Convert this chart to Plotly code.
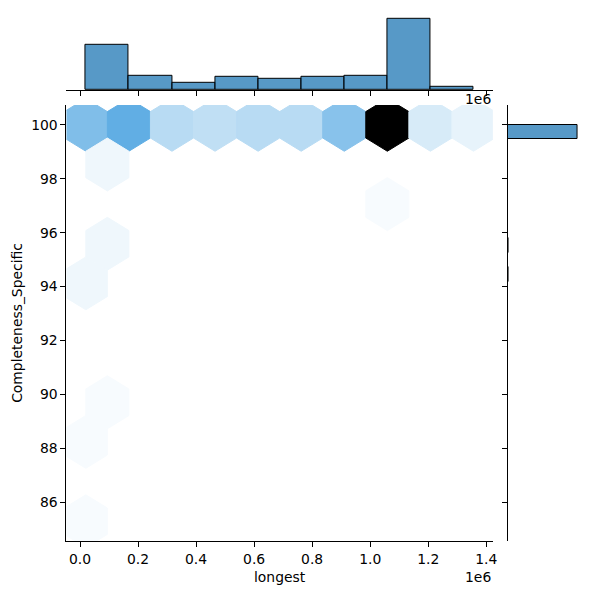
import colorsys
import numpy as np
import plotly.graph_objects as go

# ---------------- data ----------------
x_min, x_max = 0.02e6, 1.356e6          # range of "longest"
y_min, y_max = 85.3, 100.0              # range of "Completeness_Specific"
grid_nx, grid_ny = 9, 5                 # hexbin grid size

# top marginal histogram (9 bins between x_min and x_max)
x_hist_counts = [37, 12, 6, 11, 9, 11, 12, 59, 3]

# hexbin cells: lattice column / row index and count
hex_col = [0, 1, 2, 3, 4, 5, 6, 7, 8, 9, 0.5, 7, 0.5, 0, 0.5, 0, 0]
hex_row = [5, 5, 5, 5, 5, 5, 5, 5, 5, 5, 4.5, 4, 3.5, 3, 1.5, 1, 0]
hex_count = [16, 20, 9, 8, 9, 9, 15, 55, 5, 3, 2, 1, 2, 2, 1, 1, 1]

# right marginal histogram
y_hist_centers = [99.73, 95.53, 94.45]
y_hist_counts = [150, 2, 2]
y_hist_width = 0.544

x_tick_vals = [0.0, 0.2, 0.4, 0.6, 0.8, 1.0, 1.2, 1.4]   # x 1e6
y_tick_vals = [86, 88, 90, 92, 94, 96, 98, 100]

# ---------------- colormap (seaborn jointplot hex) ----------------
base = (31 / 255, 119 / 255, 180 / 255)
h, l0, s = colorsys.rgb_to_hls(*base)
stops = [colorsys.hls_to_rgb(h, l, s) for l in np.linspace(1, 0, 12)]


def cmap(t):
    t = min(max(t, 0.0), 1.0)
    pos = t * (len(stops) - 1)
    i = min(int(pos), len(stops) - 2)
    f = pos - i
    c = [stops[i][k] * (1 - f) + stops[i + 1][k] * f for k in range(3)]
    return "rgb(%d,%d,%d)" % tuple(round(v * 255) for v in c)


# ---------------- geometry from scales ----------------
sx = (x_max - x_min) / grid_nx
sy = (y_max - y_min) / grid_ny
xr = [x_min - 0.05 * (x_max - x_min), x_max + 0.05 * (x_max - x_min)]
yr = [y_min - 0.05 * (y_max - y_min), y_max + 0.05 * (y_max - y_min)]
hx = sx * np.array([0.5, 0.5, 0, -0.5, -0.5, 0, 0.5])
hy = sy / 3 * np.array([-0.5, 0.5, 1, 0.5, -0.5, -1, -0.5])

W = 600.0
main_x = [67 / W, 497 / W]
main_y = [1 - 541 / W, 1 - 105 / W]
top_y = [1 - 90 / W, 1 - 14.8 / W]
right_x = [511.8 / W, 585.9 / W]

fig = go.Figure()
vmax = max(hex_count)
for c, r, n in zip(hex_col, hex_row, hex_count):
    cx = x_min + c * sx
    cy = y_min + r * sy
    col = cmap(n / vmax)
    fig.add_trace(go.Scatter(
        x=cx + hx, y=cy + hy, mode="lines", fill="toself",
        fillcolor=col, line=dict(color=col, width=1),
        hoverinfo="skip", showlegend=False, xaxis="x", yaxis="y"))

edges = np.linspace(x_min, x_max, len(x_hist_counts) + 1)
fig.add_trace(go.Bar(
    x=(edges[:-1] + edges[1:]) / 2, y=x_hist_counts, width=edges[1] - edges[0],
    marker=dict(color="rgba(31,119,180,0.75)", line=dict(color="black", width=1)),
    xaxis="x2", yaxis="y2", showlegend=False))
fig.add_trace(go.Bar(
    y=y_hist_centers, x=y_hist_counts, width=y_hist_width, orientation="h",
    marker=dict(color="rgba(31,119,180,0.75)", line=dict(color="black", width=1)),
    xaxis="x3", yaxis="y3", showlegend=False))

axis_common = dict(showgrid=False, zeroline=False, showline=True, linecolor="black",
                   linewidth=1, ticks="outside", ticklen=5, tickwidth=1, tickcolor="black")
fnt = dict(family="DejaVu Sans", size=13.9, color="black")
fig.update_layout(
    width=600, height=600, margin=dict(l=0, r=0, t=0, b=0),
    paper_bgcolor="white", plot_bgcolor="white", font=fnt, bargap=0,
    xaxis=dict(domain=main_x, range=xr, anchor="y",
               tickvals=[v * 1e6 for v in x_tick_vals],
               ticktext=["%.1f" % v for v in x_tick_vals], **axis_common),
    yaxis=dict(domain=main_y, range=yr, anchor="x",
               tickvals=y_tick_vals, ticktext=[str(v) for v in y_tick_vals], **axis_common),
    xaxis2=dict(domain=main_x, range=xr, anchor="y2", matches="x",
                tickvals=[v * 1e6 for v in x_tick_vals], showticklabels=False, **axis_common),
    yaxis2=dict(domain=top_y, range=[0, 1.05 * max(x_hist_counts)], anchor="x2", visible=False),
    xaxis3=dict(domain=right_x, range=[0, 1.05 * max(y_hist_counts)], anchor="y3", visible=False),
    yaxis3=dict(domain=main_y, range=yr, anchor="x3", matches="y",
                tickvals=y_tick_vals, showticklabels=False, **axis_common),
    annotations=[
        dict(text="longest", x=(main_x[0] + main_x[1]) / 2, y=1 - 577 / W, xref="paper",
             yref="paper", showarrow=False, xanchor="center", yanchor="middle"),
        dict(text="Completeness_Specific", x=17 / W, y=1 - 323 / W, xref="paper",
             yref="paper", showarrow=False, textangle=-90, xanchor="center", yanchor="middle"),
        dict(text="1e6", x=main_x[1], y=1 - 577 / W, xref="paper", yref="paper",
             showarrow=False, xanchor="right", yanchor="middle"),
        dict(text="1e6", x=main_x[1], y=1 - 99 / W, xref="paper", yref="paper",
             showarrow=False, xanchor="right", yanchor="middle"),
    ],
)

fig.write_html("out.html")
